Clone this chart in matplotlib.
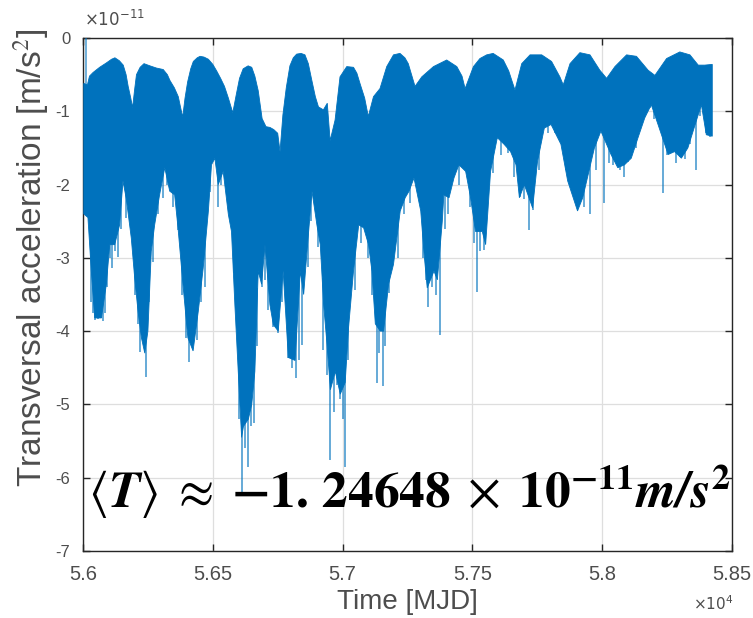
import numpy as np
import matplotlib
matplotlib.use("Agg")
import matplotlib.pyplot as plt

# ---- data (acceleration in units of 1e-11 m/s^2, time in MJD) ----
upper_mjd = [56003, 56017, 56025, 56039, 56064, 56090, 56110, 56123, 56140, 56155, 56166, 56174,
             56184, 56191, 56199, 56206, 56220, 56235, 56258, 56283, 56309, 56325, 56335, 56352,
             56367, 56384, 56393, 56403, 56415, 56425, 56440, 56451, 56466, 56483, 56500, 56515,
             56530, 56545, 56560, 56577, 56590, 56603, 56617, 56636, 56650, 56662, 56675, 56690,
             56705, 56720, 56735, 56750, 56759, 56770, 56783, 56797, 56810, 56823, 56840, 56855,
             56868, 56881, 56895, 56907, 56926, 56941, 56952, 56971, 56990, 57016, 57042, 57055,
             57067, 57085, 57099, 57119, 57144, 57170, 57196, 57221, 57240, 57253, 57279, 57305,
             57350, 57401, 57440, 57460, 57472, 57504, 57529, 57555, 57580, 57619, 57640, 57651,
             57664, 57690, 57722, 57767, 57805, 57837, 57850, 57876, 57914, 57953, 57991, 58017,
             58049, 58094, 58132, 58177, 58203, 58248, 58299, 58338, 58370, 58395, 58424]
upper_val = [-0.62, -0.64, -0.52, -0.47, -0.40, -0.34, -0.29, -0.27, -0.31, -0.37, -0.50, -0.66,
             -0.82, -0.95, -0.70, -0.50, -0.40, -0.35, -0.38, -0.41, -0.43, -0.50, -0.58, -0.68,
             -0.80, -1.08, -0.82, -0.60, -0.42, -0.32, -0.27, -0.25, -0.26, -0.29, -0.36, -0.45,
             -0.55, -0.66, -0.82, -1.02, -0.78, -0.55, -0.42, -0.38, -0.40, -0.52, -0.72, -1.10,
             -1.21, -1.22, -1.25, -1.30, -1.55, -1.05, -0.68, -0.38, -0.27, -0.22, -0.21, -0.23,
             -0.35, -0.57, -0.80, -0.94, -0.98, -0.89, -1.40, -1.12, -0.53, -0.39, -0.40, -0.48,
             -0.62, -0.82, -1.07, -0.80, -0.69, -0.39, -0.23, -0.21, -0.27, -0.35, -0.66, -0.53,
             -0.39, -0.30, -0.39, -0.52, -0.69, -0.39, -0.28, -0.23, -0.21, -0.30, -0.45, -0.57,
             -0.71, -0.35, -0.23, -0.23, -0.32, -0.53, -0.64, -0.35, -0.20, -0.23, -0.44, -0.55,
             -0.39, -0.23, -0.25, -0.44, -0.51, -0.28, -0.19, -0.23, -0.37, -0.37, -0.36]

lower_mjd = [56003, 56019, 56032, 56045, 56071, 56090, 56103, 56122, 56141, 56154, 56167, 56186,
             56199, 56212, 56225, 56238, 56250, 56263, 56276, 56295, 56315, 56334, 56353, 56366,
             56385, 56404, 56424, 56444, 56463, 56483, 56495, 56508, 56521, 56540, 56560, 56572,
             56585, 56598, 56611, 56618, 56637, 56650, 56662, 56675, 56688, 56701, 56720, 56733,
             56752, 56771, 56791, 56817, 56837, 56850, 56862, 56882, 56901, 56914, 56927, 56940,
             56953, 56972, 56991, 57010, 57023, 57042, 57062, 57081, 57100, 57113, 57126, 57145,
             57158, 57177, 57196, 57222, 57241, 57256, 57275, 57301, 57314, 57326, 57352, 57365,
             57384, 57390, 57410, 57429, 57448, 57474, 57493, 57512, 57538, 57551, 57570, 57596,
             57622, 57647, 57668, 57681, 57700, 57732, 57751, 57777, 57803, 57841, 57867, 57905,
             57925, 57970, 57995, 58034, 58060, 58086, 58112, 58138, 58164, 58189, 58215, 58254,
             58279, 58305, 58330, 58382, 58401, 58424]
lower_val = [-2.40, -2.45, -3.18, -3.82, -3.82, -3.36, -2.82, -2.82, -2.55, -1.95, -2.20, -2.73,
             -3.27, -3.73, -4.09, -4.30, -4.00, -2.91, -2.55, -2.14, -1.77, -2.09, -2.14, -2.59,
             -3.36, -4.09, -4.27, -3.73, -3.14, -2.36, -1.73, -1.64, -2.00, -1.82, -2.41, -2.64,
             -3.64, -4.55, -5.45, -5.30, -5.20, -5.00, -4.55, -3.18, -3.36, -2.82, -3.64, -3.91,
             -4.00, -3.18, -4.36, -4.40, -3.18, -3.50, -2.95, -2.09, -2.55, -2.82, -3.64, -4.18,
             -4.80, -4.55, -4.86, -4.70, -3.95, -3.18, -2.55, -2.59, -2.82, -3.18, -3.90, -4.00,
             -4.00, -3.36, -3.09, -2.36, -2.18, -2.09, -1.91, -2.36, -2.95, -3.41, -3.18, -3.30,
             -2.50, -2.14, -2.18, -1.91, -1.73, -1.82, -2.18, -2.64, -2.64, -2.82, -1.82, -1.36,
             -1.45, -1.55, -1.73, -2.18, -2.00, -2.32, -1.68, -1.23, -1.18, -1.45, -1.95, -2.36,
             -2.18, -1.50, -1.27, -1.59, -1.77, -1.73, -1.64, -1.36, -1.09, -0.91, -1.18, -1.59,
             -1.55, -1.64, -1.50, -0.91, -1.32, -1.34]

spike_mjd = [56030, 56039, 56048, 56058, 56070, 56077, 56085, 56092, 56104, 56112, 56124, 56135,
             56148, 56167, 56200, 56210, 56220, 56230, 56243, 56255, 56270, 56290, 56308, 56322,
             56345, 56366, 56380, 56395, 56408, 56420, 56440, 56455, 56469, 56490, 56520, 56530,
             56580, 56600, 56612, 56624, 56636, 56648, 56659, 56670, 56688, 56700, 56713, 56733,
             56752, 56765, 56790, 56805, 56820, 56832, 56844, 56868, 56880, 56905, 56926, 56940,
             56952, 56965, 56977, 56990, 57000, 57009, 57020, 57048, 57070, 57099, 57115, 57131,
             57142, 57154, 57165, 57180, 57215, 57235, 57260, 57310, 57320, 57330, 57345, 57360,
             57375, 57395, 57407, 57450, 57490, 57505, 57516, 57530, 57545, 57565, 57580, 57610,
             57638, 57660, 57683, 57700, 57719, 57735, 57757, 57792, 57820, 57844, 57860, 57876,
             57895, 57914, 57930, 57953, 57975, 58007, 58025, 58043, 58068, 58085, 58100, 58130,
             58158, 58184, 58200, 58233, 58250, 58267, 58285, 58299, 58320, 58338, 58361, 58376,
             58400, 58415]
spike_val = [-3.60, -3.75, -3.85, -3.84, -3.82, -3.86, -3.75, -3.40, -3.00, -3.14, -2.90, -2.99,
             -2.60, -2.45, -3.50, -3.90, -4.28, -4.10, -4.62, -3.60, -3.06, -2.40, -2.18, -2.00,
             -2.30, -2.62, -3.50, -4.10, -4.42, -4.20, -4.12, -3.60, -3.40, -2.10, -2.30, -2.00,
             -3.20, -5.20, -6.23, -5.60, -5.85, -5.30, -5.25, -4.20, -3.40, -3.30, -3.71, -3.94,
             -4.03, -3.60, -4.36, -4.50, -4.64, -4.40, -4.19, -3.12, -2.50, -2.85, -4.26, -4.60,
             -5.76, -5.10, -4.73, -4.93, -5.20, -5.85, -4.40, -3.44, -2.80, -3.00, -3.50, -4.71,
             -4.30, -4.75, -4.20, -3.48, -3.00, -2.40, -2.25, -3.00, -3.30, -3.67, -3.40, -3.50,
             -4.05, -2.60, -2.40, -2.00, -2.30, -2.80, -3.47, -2.90, -2.89, -2.00, -1.84, -1.60,
             -1.57, -1.90, -2.17, -2.20, -2.62, -2.35, -1.80, -1.30, -1.30, -1.46, -1.80, -1.89,
             -2.10, -1.98, -2.30, -2.40, -1.80, -2.25, -1.70, -1.73, -1.80, -1.90, -1.69, -1.50,
             -1.12, -0.95, -1.10, -2.12, -1.60, -1.53, -1.70, -1.62, -1.65, -1.44, -1.80, -1.07,
             -1.30, -1.35]

start_spike_mjd = [56010]
start_spike_val = [0.0]

x_ticks = [56000, 56500, 57000, 57500, 58000, 58500]
x_ticklabels = ["5.6", "5.65", "5.7", "5.75", "5.8", "5.85"]
y_ticks = [0, -1, -2, -3, -4, -5, -6, -7]
y_ticklabels = ["0", "-1", "-2", "-3", "-4", "-5", "-6", "-7"]

mean_label = (r"$\langle \mathbfit{T}\rangle \;\approx\; \mathbf{-1.\,24648} \;\times\; "
              r"\mathbf{10}^{\mathbf{-11}}\mathbfit{m/s}^{\mathbf{2}}$")

# ---- style ----
BLUE = "#0072BD"
AX = "#262626"
TXT = "#4d4d4d"
plt.rcParams["font.family"] = ["Liberation Sans", "DejaVu Sans"]
plt.rcParams["mathtext.fontset"] = "stix"

fig = plt.figure(figsize=(7.53, 6.18), dpi=100)
ax = fig.add_axes([83 / 753, 1 - 551 / 618, (732 - 83) / 753, (551 - 38) / 618])

xs = np.r_[np.asarray(upper_mjd), np.asarray(lower_mjd)[::-1]]
ys = np.r_[np.asarray(upper_val), np.asarray(lower_val)[::-1]]
ax.fill(xs, ys, color=BLUE, lw=0.6, ec=BLUE, zorder=3)
spike_top = np.minimum(np.interp(spike_mjd, lower_mjd, lower_val) + 0.3, -0.9)
ax.vlines(spike_mjd, spike_val, spike_top, color=BLUE, lw=1.2, alpha=0.7, zorder=3)
ax.vlines(start_spike_mjd, -1.0, start_spike_val, color=BLUE, lw=1.3, alpha=0.6, zorder=3)

ax.set_xlim(56000, 58500)
ax.set_ylim(-7, 0)
ax.set_xticks(x_ticks)
ax.set_xticklabels(x_ticklabels)
ax.set_yticks(y_ticks)
ax.set_yticklabels(y_ticklabels)
ax.grid(True, color="#dedede", lw=0.9, zorder=0)
ax.set_axisbelow(True)
ax.tick_params(direction="in", length=5, width=1.0, color=AX, top=True, right=True,
               labelcolor=TXT)
ax.tick_params(axis="x", labelsize=14.5, pad=10)
ax.tick_params(axis="y", labelsize=12, pad=9)
for s in ax.spines.values():
    s.set_color(AX)
    s.set_linewidth(1.0)

ax.set_xlabel("Time [MJD]", fontsize=20, color=TXT, labelpad=4)
ax.set_ylabel(r"Transversal acceleration [m/s$^2$]", fontsize=24, color=TXT)
ax.yaxis.set_label_coords(-0.05, 0.571)

fig.text(84 / 753, 1 - 19 / 618, r"$\times10^{-11}$", fontsize=12, color=TXT,
         ha="left", va="center", math_fontfamily="dejavusans")
fig.text(733 / 753, 1 - 604 / 618, r"$\times10^{4}$", fontsize=11, color=TXT,
         ha="right", va="center", math_fontfamily="dejavusans")

ax.text(56018, -6.2, mean_label, fontsize=37, color="black", ha="left", va="center", zorder=5)

fig.savefig("out.png", dpi=100)
